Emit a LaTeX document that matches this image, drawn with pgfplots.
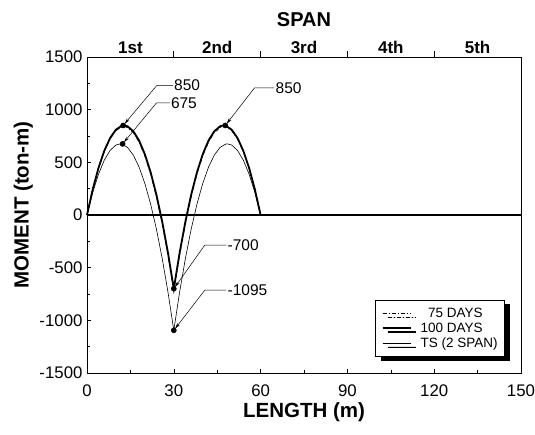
\documentclass[border=0pt]{standalone}
\usepackage{fontspec}
\setmainfont{Liberation Sans}
\usepackage{pgfplots}
\pgfplotsset{compat=1.18}
\usetikzlibrary{arrows.meta,shadows}

\pgfplotstableread{
x y
0 0
2 243.8
4 445.8
6 606.2
8 725.0
10 802.0
12 837.4
13 839.4
14 831.0
16 783.0
18 693.4
20 562.0
22 389.0
24 174.2
26 -82.2
28 -380.2
30 -720
32 -380.2
34 -82.2
36 174.2
38 389.0
40 562.0
42 693.4
44 783.0
46 831.0
47 839.4
48 837.4
50 802.0
52 725.0
54 606.2
56 445.8
58 243.8
60 0
}\dayssf

\pgfplotstableread{
x y
0 0
2 245.5
4 449.3
6 611.3
8 731.6
10 810.2
12 847.1
13 849.8
14 842.2
16 795.4
18 707.1
20 577.0
22 405.2
24 191.6
26 -63.8
28 -360.8
30 -700
32 -360.8
34 -63.8
36 191.6
38 405.2
40 577.0
42 707.1
44 795.4
46 842.2
47 849.8
48 847.1
50 810.2
52 731.6
54 611.3
56 449.3
58 245.5
60 0
}\dayshundred

\pgfplotstableread{
x y
0 0
2 215.2
4 389.2
6 522.1
8 613.8
10 664.3
11.5 675.2
12 673.6
14 641.8
16 568.8
18 454.6
20 299.2
22 102.7
24 -135.1
26 -414.0
28 -734.0
30 -1095
32 -734.0
34 -414.0
36 -135.1
38 102.7
40 299.2
42 454.6
44 568.8
46 641.8
48 673.6
48.5 675.2
50 664.3
52 613.8
54 522.1
56 389.2
58 215.2
60 0
}\tstwo

\pgfplotstableread{
x y
12.5 850
12.3 675
47.8 850
30 -700
30 -1095
}\dots

\begin{document}
\begin{tikzpicture}
\path[use as bounding box] (0,0) rectangle (535pt,435pt);
\begin{axis}[
  at={(87pt,62pt)}, anchor=south west,
  scale only axis, width=434pt, height=316pt,
  xmin=0, xmax=150, ymin=-1500, ymax=1500,
  xtick={0,30,...,150}, minor x tick num=1,
  ytick={-1500,-1000,...,1500}, minor y tick num=1,
  tick pos=left, tick align=inside,
  major tick length=4pt, minor tick length=3pt,
  every tick/.style={black, line width=0.6pt},
  axis line style={line width=0.9pt},
  /pgf/number format/assume math mode=true,
  /pgf/number format/set thousands separator={},
  ticklabel style={font=\fontsize{16.8}{19}\selectfont},
  xticklabel style={yshift=-8pt},
  yticklabel style={xshift=-1pt},
  xlabel={\textbf{LENGTH (m)}},
  ylabel={\textbf{MOMENT (ton-m)}},
  xlabel style={font=\fontsize{20.5}{22}\selectfont, at={(axis description cs:0.5,-0.123)}, anchor=center},
  ylabel style={font=\fontsize{20.5}{22}\selectfont, at={(axis description cs:-0.147,0.532)}, anchor=center},
  legend style={at={(axis description cs:0.963,0.231)}, anchor=north east,
    draw=black, line width=0.8pt, fill=white,
    font=\fontsize{13.5}{15}\selectfont,
    inner xsep=6pt, inner ysep=7pt, row sep=1.5pt,
    nodes={inner xsep=1pt, inner ysep=1pt},
    drop shadow={shadow xshift=5pt, shadow yshift=-4pt, fill=black, opacity=1}},
  legend cell align=left,
  legend image code/.code={\draw[#1] (-4pt,0pt) -- (24pt,0pt);},
  clip=false,
]
\addplot[black, line width=0.9pt, dash pattern=on 4pt off 2pt on 1pt off 2pt] table[x=x,y=y] {\dayssf};
\addlegendentry{\hspace*{8pt}\phantom{1}75 DAYS}
\addplot[black, line width=1.8pt] table[x=x,y=y] {\dayshundred};
\addlegendentry{\hspace*{8pt}100 DAYS}
\addplot[black, line width=0.6pt] table[x=x,y=y] {\tstwo};
\addlegendentry{\hspace*{8pt}TS (2 SPAN)}
\addplot[black, line width=1.2pt, forget plot] coordinates {(0,0) (150,0)};
\addplot[only marks, mark=*, mark size=2.6pt, black, forget plot] table[x=x,y=y] {\dots};

\begin{scope}[line width=0.5pt, font=\fontsize{15.5}{17}\selectfont]
\draw[{Stealth[length=6pt,width=3pt]}-, shorten <=2pt] (axis cs:12.5,850) -- (axis cs:24.1,1229) -- (axis cs:29.7,1229) node[right, inner sep=1pt] {850};
\draw[{Stealth[length=6pt,width=3pt]}-, shorten <=2pt] (axis cs:12.3,675) -- (axis cs:24.0,1064) -- (axis cs:28.6,1064) node[right, inner sep=1pt] {675};
\draw[{Stealth[length=6pt,width=3pt]}-, shorten <=2pt] (axis cs:47.8,850) -- (axis cs:57.9,1207) -- (axis cs:64.8,1207) node[right, inner sep=1pt] {850};
\draw[{Stealth[length=6pt,width=3pt]}-, shorten <=2pt] (axis cs:30,-700) -- (axis cs:40.7,-286) -- (axis cs:48.2,-286) node[right, inner sep=1pt] {-700};
\draw[{Stealth[length=6pt,width=3pt]}-, shorten <=2pt] (axis cs:30,-1095) -- (axis cs:40.7,-714) -- (axis cs:48.2,-714) node[right, inner sep=1pt] {-1095};
\end{scope}
\node[font=\bfseries\fontsize{20}{22}\selectfont] at (axis description cs:0.5,1.117) {SPAN};
\end{axis}

\begin{axis}[
  at={(87pt,62pt)}, anchor=south west,
  scale only axis, width=434pt, height=316pt,
  xmin=0, xmax=150, ymin=-1500, ymax=1500,
  axis x line*=top, hide y axis,
  axis line style={line width=0.9pt, -},
  xtick={15,45,75,105,135},
  xticklabels={1st,2nd,3rd,4th,5th},
  major tick length=0pt,
  xticklabel style={font=\bfseries\fontsize{17}{19}\selectfont},
  extra x ticks={30,60,90,120},
  extra x tick labels={},
  extra x tick style={major tick length=6pt, tick align=outside, every tick/.style={black, line width=0.8pt}},
]
\end{axis}
\end{tikzpicture}
\end{document}
